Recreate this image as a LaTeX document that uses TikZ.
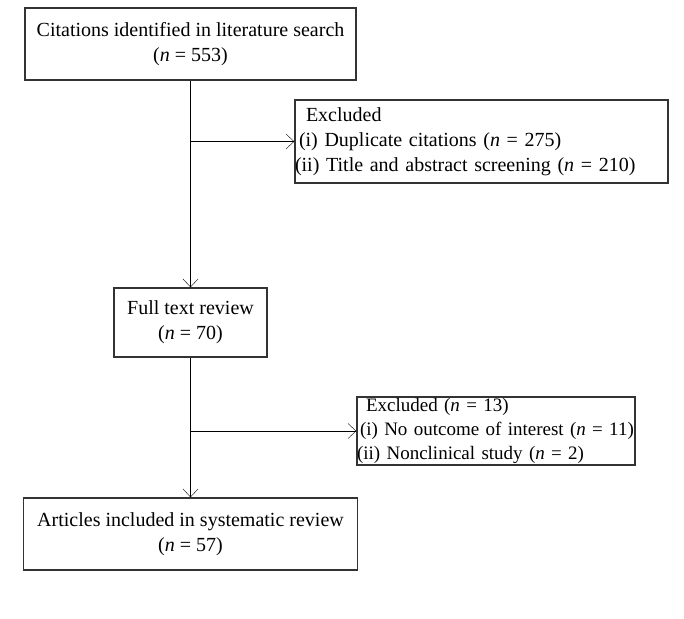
\documentclass[tikz,border=0pt]{standalone}
\usepackage{fontspec}
\setmainfont{Liberation Serif}
\usetikzlibrary{arrows.meta}
\newcommand{\nval}[1]{(\textit{n}~=~#1)}
\begin{document}
\begin{tikzpicture}[x=1pt,y=-1pt,line cap=butt,line join=miter,>={Straight Barb[length=8pt,width=15pt]},
		box/.style={draw=black!80,line width=1.4pt,inner sep=0pt,align=center,font=\fontsize{20}{25}\selectfont},
		exbox/.style={box,align=left,text width=#1}]
			\useasboundingbox (0,0) rectangle (684,618);
			\node[box,minimum width=331pt,minimum height=72pt] (search) at (190.5,44)
			{Citations identified in literature search\\ \nval{553}};
			\node[box,minimum width=153pt,minimum height=69pt] (fulltext) at (190.5,322.5)
			{Full text review\\ \nval{70}};
			\node[box,minimum width=334pt,minimum height=72pt] (included) at (190.5,534)
			{Articles included in systematic review\\ \nval{57}};
			\node[exbox=373pt,minimum height=83pt] (excl1) at (481.5,141.5)
			{\hspace{11pt}Excluded\\ \hspace{4pt}(i) Duplicate citations \nval{275}\\ (ii) Title and abstract screening \nval{210}};
			\node[exbox=278pt,minimum height=68pt,font=\fontsize{19}{24}\selectfont] (excl2) at (496,431)
			{\hspace{9pt}Excluded \nval{13}\\ \hspace{3pt}(i) No outcome of interest \nval{11}\\ (ii) Nonclinical study \nval{2}};
			
			\draw[->] (search) -- (fulltext);
			\draw[->] (excl1.west -| fulltext) -- (excl1.west);
			\draw[->] (fulltext) -- (included);
			\draw[->] (excl2.west -| fulltext) -- (excl2.west);
		\end{tikzpicture}
\end{document}
